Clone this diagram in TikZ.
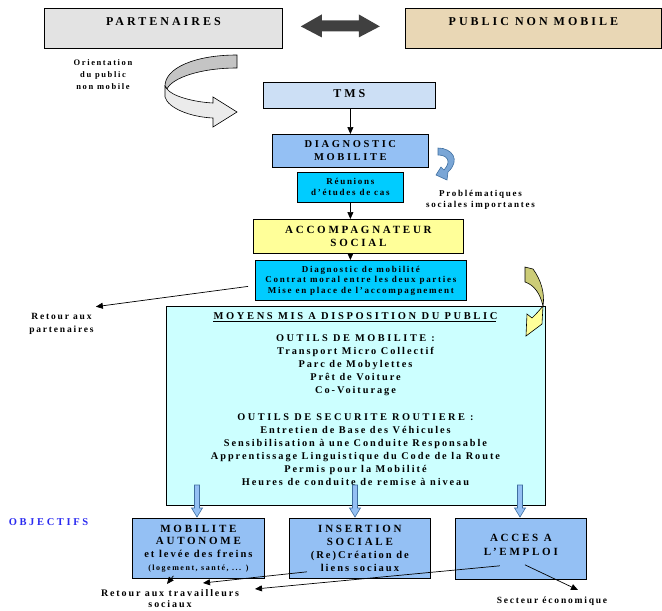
\documentclass[tikz,border=0pt]{standalone}
\usepackage{fontspec}
\setmainfont{Liberation Serif}
\newfontfamily\ftitle{Liberation Serif}[LetterSpace=25]
\newfontfamily\fbody{Liberation Serif}[LetterSpace=19]
\usetikzlibrary{arrows.meta,calc}
\newcommand\myfs[2]{\fontsize{#1}{#2}\selectfont}
\definecolor{partcol}{HTML}{E3E3E3}
\definecolor{pubcol}{HTML}{E9D7B5}
\definecolor{tmscol}{HTML}{CCDFF5}
\definecolor{diagcol}{HTML}{94C0F4}
\definecolor{cyanbox}{HTML}{00CCFF}
\definecolor{yelbox}{HTML}{FFFF99}
\definecolor{moycol}{HTML}{CCFFFF}
\definecolor{objblue}{HTML}{2B2BF0}
\definecolor{darkarr}{HTML}{404040}
\definecolor{smallblue}{HTML}{7AA6D6}
\definecolor{smallblueline}{HTML}{3F6FA0}
\definecolor{olive}{HTML}{CCCC77}
\definecolor{backgray}{HTML}{C4C4C4}
\definecolor{frontgray}{HTML}{EBEBEB}
\begin{document}
\begin{tikzpicture}[x=1pt,y=-1pt,
  box/.style={draw=black,line width=0.8pt,inner sep=0pt,align=center,anchor=north west},
  lbl/.style={inner sep=0pt,align=center},
  arr/.style={line width=0.7pt,-{Triangle[length=7pt,width=6pt]}},
  barrow/.style={fill=diagcol,draw=smallblueline,line width=0.6pt},
]
\useasboundingbox (0,0) rectangle (662,611);

% top row
\node[box,fill=partcol,minimum width=238pt,minimum height=40pt,text height=8pt,text depth=14pt,font=\ftitle\bfseries\myfs{12}{14}] (part) at (44,8) {PARTENAIRES};
\node[box,fill=pubcol,minimum width=256pt,minimum height=40pt,text height=8pt,text depth=14pt,font=\ftitle\bfseries\myfs{12}{14}] (pub) at (405,8) {PUBLIC NON MOBILE};
\coordinate (dl) at ($(part.east)+(18,-2)$);
\fill[darkarr] (dl) -- ++(21,-12) -- ++(0,6) -- ++(37,0) -- ++(0,-6) -- ++(21,12) -- ++(-21,11) -- ++(0,-6) -- ++(-37,0) -- ++(0,6) -- cycle;

\node[lbl,font=\fbody\bfseries\myfs{8.5}{12}] (orient) at (103,75) {Orientation\\du public\\non mobile};

% big curved arrow
\draw[fill=backgray,line width=0.6pt] (237,55) .. controls (195,55) and (165,68) .. (165,86) -- (167,89) .. controls (172,78) and (200,68) .. (237,68) -- cycle;
\draw[fill=frontgray,line width=0.6pt] (165,86) -- (165,97) .. controls (168,108) and (190,117) .. (213,118) -- (213,127) -- (237,112) -- (213,97) -- (213,103) .. controls (193,102) and (172,96) .. (167,89) -- cycle;

\node[box,fill=tmscol,minimum width=172pt,minimum height=26pt,text height=8pt,text depth=4pt,font=\ftitle\bfseries\myfs{12}{14}] (tms) at (263,82) {TMS};

\node[box,fill=diagcol,minimum width=156pt,minimum height=33pt,font=\ftitle\bfseries\myfs{10.5}{13}] (diag) at (272,134) {DIAGNOSTIC\\MOBILITE};
\node[box,fill=cyanbox,minimum width=106pt,minimum height=30pt,font=\fbody\bfseries\myfs{9}{11}] (reun) at (297,172) {Réunions\\d’études de cas};

% small blue curved arrow
\draw[fill=smallblue,draw=smallblueline,line width=0.6pt] (438,148) .. controls (452,148) and (461,160) .. (448,172) -- (447,180) -- (436,175) -- (441,167) -- (444,170) .. controls (452,161) and (447,155) .. (438,155) -- cycle;
\node[lbl,font=\fbody\bfseries\myfs{9}{11}] (probl) at (480.5,199.5) {Problématiques\\sociales importantes};

\node[box,fill=yelbox,minimum width=210pt,minimum height=34pt,font=\ftitle\bfseries\myfs{11}{13}] (acc) at (253,219) {ACCOMPAGNATEUR\\SOCIAL};
\node[box,fill=cyanbox,minimum width=211pt,minimum height=40pt,font=\fbody\bfseries\myfs{9}{10.5}] (dg) at (255,260) {Diagnostic de mobilité\\Contrat moral entre les deux parties\\Mise en place de l’accompagnement};

\draw[arr] (tms.south -| diag.north) -- (diag.north);
\draw[arr] (reun.south) -- (reun.south |- acc.north);
\draw[arr] (reun.south |- acc.south) -- (reun.south |- dg.north);

\node[lbl,font=\fbody\bfseries\myfs{9.5}{13}] (retp) at (61.5,323.5) {Retour aux\\partenaires};
\coordinate (retpend) at ($(retp.north east)+(2,-6)$);
\draw[arr] ($(dg.west)+(-7,6)$) -- (retpend);

% MOYENS box
\node[box,fill=moycol,minimum width=379pt,minimum height=199pt] (moy) at (166,306) {};
\node[lbl,font=\ftitle\bfseries\myfs{10.5}{13}] (mtitle) at (355.5,316) {MOYENS MIS A DISPOSITION DU PUBLIC};
\draw[line width=1.1pt] ($(mtitle.base west)+(0,2.5)$) -- ($(mtitle.base east)+(-2,2.5)$);
\node[lbl,font=\fbody\bfseries\myfs{10.3}{12.9}] (mobtxt) at (355.5,365.5) {{\ftitle OUTILS DE MOBILITE :}\\Transport Micro Collectif\\Parc de Mobylettes\\Prêt de Voiture\\Co-Voiturage};
\node[lbl,font=\fbody\bfseries\myfs{10.3}{12.9}] (sectxt) at (355.5,449.5) {{\ftitle OUTILS DE SECURITE ROUTIERE :}\\Entretien de Base des Véhicules\\Sensibilisation à une Conduite Responsable\\Apprentissage Linguistique du Code de la Route\\Permis pour la Mobilité\\Heures de conduite de remise à niveau};

% yellow curved arrow
\draw[fill=olive,line width=0.6pt] (525,267) -- (533,269) .. controls (541,280) and (545,293) .. (543,306) .. controls (540,293) and (534,285) .. (525,282) -- cycle;
\draw[fill=yelbox,line width=0.6pt] (543,306) -- (542,324) -- (526,336) -- (527,314) -- (532,318) .. controls (537,313) .. (543,306) -- cycle;

% objectives
\node[lbl,text=objblue,font=\ftitle\bfseries\myfs{10.5}{13}] (obj) at (48.5,522) {OBJECTIFS};
\node[box,fill=diagcol,minimum width=132pt,minimum height=60pt,font=\ftitle\bfseries\myfs{11}{12.7}] (mobil) at (132,518) {MOBILITE\\AUTONOME\\{\fbody\myfs{10.5}{12.7}et levée des freins}\\{\fbody\myfs{8}{12.7}(logement, santé, ... )}};
\node[box,fill=diagcol,minimum width=141pt,minimum height=60pt,font=\ftitle\bfseries\myfs{11}{12.7}] (ins) at (289,518) {INSERTION\\SOCIALE\\{\fbody\myfs{10.5}{12.7}(Re)Création de}\\{\fbody\myfs{10.5}{12.7}liens sociaux}};
\node[box,fill=diagcol,minimum width=131pt,minimum height=61pt,text depth=8pt,font=\ftitle\bfseries\myfs{11}{14}] (acces) at (455,518) {ACCES A\\L’EMPLOI};

% blue block arrows
\foreach \n/\xx in {mobil/197,ins/355,acces/520}{
  \coordinate (ba\n) at (\xx,485);
  \draw[barrow] (ba\n) ++(-2.5,0) -- ++(0,23) -- ++(-3,0) -- ++(5.5,9) -- ++(5.5,-9) -- ++(-3,0) -- ++(0,-23) -- cycle;
}

\node[lbl,font=\fbody\bfseries\myfs{10}{11.5}] (rts) at (170,598.5) {Retour aux travailleurs\\sociaux};
\node[lbl,font=\fbody\bfseries\myfs{9.5}{12}] (sect) at (552,601) {Secteur économique};

\coordinate (e1) at (167,584);
\coordinate (e2) at (203,583);
\coordinate (e3) at (255,589);
\coordinate (e4) at (578,590);
\draw[arr] ($(mobil.south)+(-25,-3)$) -- (e1);
\draw[arr] ($(ins.south west)+(18,-7)$) -- (e2);
\draw[arr] ($(acces.south)+(-21,-14)$) -- (e3);
\draw[arr] ($(acces.south)+(4,-15)$) -- (e4);
\end{tikzpicture}
\end{document}
